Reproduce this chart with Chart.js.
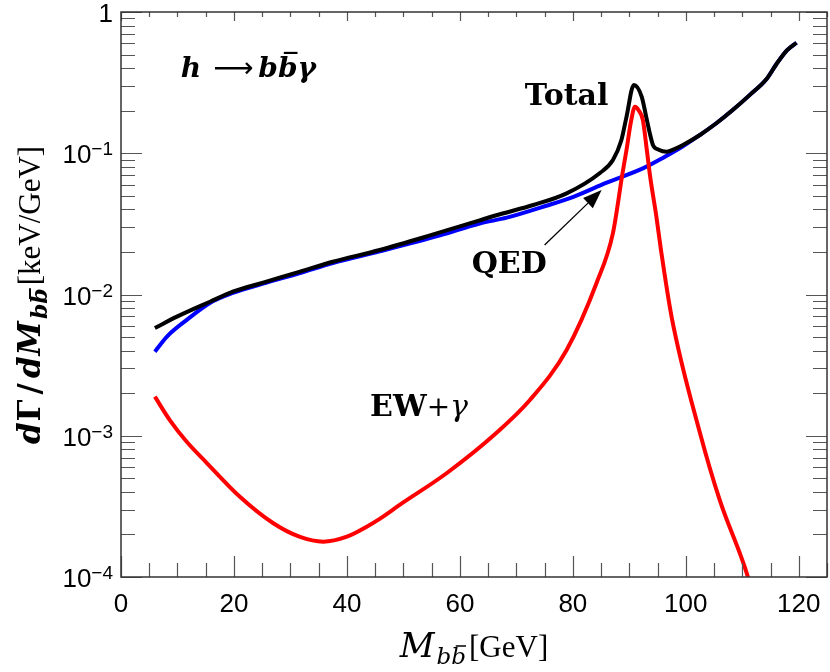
<!DOCTYPE html>
<html>
<head>
<meta charset="utf-8">
<script src="https://cdn.jsdelivr.net/npm/chart.js@4.4.1/dist/chart.umd.min.js"></script>
<style>
html,body{margin:0;padding:0;background:#fff;}
canvas{display:block;}
</style>
</head>
<body>
<canvas id="c" width="830" height="672"></canvas>
<script>
// ---------- data ----------
const totalX = [6.0, 9.9, 15.75, 19.8, 25, 31.7, 37.5, 45.8, 55, 63.5, 67.1, 73.0, 78.9, 84.8, 87.1, 88.6, 89.5, 90.8, 92.2, 93.0, 93.6, 94.2, 95.2, 96.6, 98, 99.5, 102.5, 105.4, 108.3, 111.3, 114.3, 116.0, 117.9, 119.6];
const totalY = [0.00579, 0.00697, 0.00889, 0.01047, 0.0121, 0.01452, 0.01706, 0.02065, 0.0264, 0.0335, 0.0370, 0.0430, 0.0520, 0.0725, 0.0896, 0.124, 0.181, 0.304, 0.251, 0.18, 0.14, 0.114, 0.106, 0.1026, 0.107, 0.1143, 0.1347, 0.163, 0.2023, 0.258, 0.335, 0.425, 0.535, 0.606];

const qedX = [6.0, 8.1, 11.6, 15.75, 19.8, 25, 31.7, 37.5, 45.8, 56.5, 63.5, 68.3, 75.3, 80.1, 86.0, 92.4, 96.0, 99.5, 102.5, 105.4, 108.3, 111.3, 114.3, 116.0, 117.9, 119.6];
const qedY = [0.00394, 0.00502, 0.00659, 0.00871, 0.01025, 0.0119, 0.0142, 0.0167, 0.0202, 0.0262, 0.0318, 0.0350, 0.0425, 0.0492, 0.062, 0.0782, 0.093, 0.112, 0.1347, 0.163, 0.2023, 0.258, 0.335, 0.425, 0.535, 0.606];

const ewX = [6.0, 8.7, 11.6, 15.2, 21.1, 26.9, 31.7, 35.8, 40.0, 43.5, 45.8, 49.4, 57.7, 66.5, 72.4, 78.9, 84.2, 87.1, 88.8, 89.5, 90.3, 91.0, 91.7, 92.4, 93.1, 93.7, 94.8, 95.6, 97.5, 102.5, 106.0, 111.0, 112.0];
const ewY = [0.00189, 0.00128, 0.00091, 0.000641, 0.000368, 0.000241, 0.000192, 0.000178, 0.000193, 0.000227, 0.000258, 0.000325, 0.000545, 0.00105, 0.00179, 0.00405, 0.01206, 0.0272, 0.0725, 0.1054, 0.168, 0.2136, 0.2, 0.172, 0.1054, 0.0679, 0.0354, 0.0207, 0.0069, 0.00105, 0.000351, 0.0001, 0.00007];

const xTickValues = [0, 20, 40, 60, 80, 100, 120];
const yTickExponents = [-4, -3, -2, -1, 0];

// annotation anchors in data units
const labelTotal = {x: 71.5, y: 0.22};
const labelQED = {x: 62.1, y: 0.0142};
const arrowQED = {x0: 75.0, y0: 0.0224, x1: 85.1, y1: 0.055};
const labelEW = {x: 44.1, y: 0.00138};
const labelProcess = {x: 10.6, y: 0.347};

// ---------- styles ----------
const SERIF = "'Liberation Serif', 'DejaVu Serif', serif";
const MATH = "'DejaVu Serif', 'Liberation Serif', serif";
const SANS = "'Liberation Sans', Arial, sans-serif";

function pts(xs, ys) { return xs.map((x, i) => ({x: x, y: ys[i]})); }

function richWidth(ctx, segs) {
  let w = 0;
  for (const s of segs) { ctx.font = s.f; w += ctx.measureText(s.t).width + (s.gap || 0); }
  return w;
}
function drawRich(ctx, segs, x, y, align) {
  let cx = align === 'center' ? x - richWidth(ctx, segs) / 2 : x;
  ctx.textAlign = 'left';
  ctx.textBaseline = 'alphabetic';
  for (const s of segs) {
    ctx.font = s.f;
    const w = ctx.measureText(s.t).width;
    const dy = s.dy || 0;
    ctx.fillText(s.t, cx, y + dy);
    if (s.bar) {
      ctx.save();
      ctx.lineWidth = s.barW || 1.5;
      ctx.strokeStyle = ctx.fillStyle;
      ctx.beginPath();
      ctx.moveTo(cx + w * 0.3, y + dy - s.bar);
      ctx.lineTo(cx + w * 1.0, y + dy - s.bar);
      ctx.stroke();
      ctx.restore();
    }
    cx += w + (s.gap || 0);
  }
}

const framePlugin = {
  id: 'frame',
  afterDatasetsDraw(chart) {
    const {ctx, chartArea: a, scales: {x, y}} = chart;
    ctx.save();
    ctx.strokeStyle = '#555';
    ctx.lineWidth = 1.2;
    ctx.beginPath();
    for (let v = 0; v <= x.max; v += 5) {
      const px = Math.round(x.getPixelForValue(v)) + 0.5;
      const major = v % 20 === 0;
      const lb = major ? 21 : 14, lt = major ? 9 : 5;
      ctx.moveTo(px, a.bottom); ctx.lineTo(px, a.bottom - lb);
      ctx.moveTo(px, a.top); ctx.lineTo(px, a.top + lt);
    }
    for (let e = -4; e <= 0; e++) {
      for (let m = 1; m <= 9; m++) {
        const v = m * Math.pow(10, e);
        if (v > 1.0001) break;
        const py = Math.round(y.getPixelForValue(v)) + 0.5;
        const len = m === 1 ? 21 : 14;
        ctx.moveTo(a.left, py); ctx.lineTo(a.left + len, py);
        ctx.moveTo(a.right, py); ctx.lineTo(a.right - len, py);
      }
    }
    ctx.stroke();
    ctx.strokeStyle = '#333';
    ctx.lineWidth = 1.5;
    ctx.strokeRect(a.left, a.top, a.right - a.left, a.bottom - a.top);
    ctx.restore();
  },
  afterDraw(chart) {
    const {ctx, chartArea: a, scales: {x, y}} = chart;
    ctx.save();
    ctx.fillStyle = '#000';
    // x tick labels
    ctx.font = '26px ' + SANS;
    ctx.textAlign = 'center';
    ctx.textBaseline = 'alphabetic';
    for (const v of xTickValues) {
      ctx.fillText(String(v), x.getPixelForValue(v), a.bottom + 35);
    }
    // y tick labels
    for (const e of yTickExponents) {
      const py = y.getPixelForValue(Math.pow(10, e));
      const right = a.left - 8;
      if (e === 0) {
        ctx.font = '26px ' + SANS;
        ctx.textAlign = 'right';
        ctx.fillText('1', right, py + 10);
      } else {
        ctx.font = '19px ' + SANS;
        const sup = '\u2212' + String(-e);
        const sw = ctx.measureText(sup).width;
        ctx.textAlign = 'right';
        ctx.fillText(sup, right, py + 2);
        ctx.font = '26px ' + SANS;
        ctx.fillText('10', right - sw, py + 10);
      }
    }
    // axis titles
    drawRich(ctx, [
      {t: 'M', f: 'italic 34px ' + MATH, gap: 2},
      {t: 'b', f: 'italic 23px ' + MATH, dy: 7},
      {t: 'b', f: 'italic 23px ' + MATH, dy: 7, bar: 18, gap: 3},
      {t: '[GeV]', f: '31px ' + SERIF}
    ], (a.left + a.right) / 2, 657, 'center');

    ctx.save();
    ctx.translate(40, 295);
    ctx.rotate(-Math.PI / 2);
    drawRich(ctx, [
      {t: 'd', f: 'bold italic 31px ' + MATH, gap: 1},
      {t: '\u0393', f: 'bold 31px ' + MATH, gap: 5},
      {t: '/', f: 'bold 31px ' + MATH, gap: 5},
      {t: 'd', f: 'bold italic 31px ' + MATH, gap: 1},
      {t: 'M', f: 'bold italic 31px ' + MATH, gap: 2},
      {t: 'b', f: 'bold italic 22px ' + MATH, dy: 7},
      {t: 'b', f: 'bold italic 22px ' + MATH, dy: 7, bar: 17, barW: 2, gap: 3},
      {t: '[keV/GeV]', f: '31px ' + SERIF}
    ], 0, 0, 'center');
    ctx.restore();

    // annotations
    ctx.font = 'bold 30px ' + MATH;
    ctx.textAlign = 'left';
    ctx.fillText('Total', x.getPixelForValue(labelTotal.x), y.getPixelForValue(labelTotal.y));
    ctx.fillText('QED', x.getPixelForValue(labelQED.x), y.getPixelForValue(labelQED.y));

    drawRich(ctx, [
      {t: 'EW', f: 'bold 30px ' + MATH},
      {t: '+', f: '28px ' + MATH},
      {t: '\u03B3', f: 'italic 30px ' + MATH}
    ], x.getPixelForValue(labelEW.x), y.getPixelForValue(labelEW.y), 'left');

    drawRich(ctx, [
      {t: 'h', f: 'bold italic 28px ' + MATH, gap: 12},
      {t: '\u27F6', f: '28px DejaVu Sans', gap: 5},
      {t: 'b', f: 'bold italic 28px ' + MATH, gap: 0},
      {t: 'b', f: 'bold italic 28px ' + MATH, bar: 24, barW: 2.2, gap: 0},
      {t: '\u03B3', f: 'bold italic 28px ' + MATH}
    ], x.getPixelForValue(labelProcess.x), y.getPixelForValue(labelProcess.y), 'left');

    // QED arrow
    const x0 = x.getPixelForValue(arrowQED.x0), y0 = y.getPixelForValue(arrowQED.y0);
    const x1 = x.getPixelForValue(arrowQED.x1), y1 = y.getPixelForValue(arrowQED.y1);
    const ang = Math.atan2(y1 - y0, x1 - x0);
    const hl = 19, hw = 7;
    const bx = x1 - hl * Math.cos(ang), by = y1 - hl * Math.sin(ang);
    ctx.strokeStyle = '#000';
    ctx.lineWidth = 1.3;
    ctx.beginPath(); ctx.moveTo(x0, y0); ctx.lineTo(bx, by); ctx.stroke();
    ctx.beginPath();
    ctx.moveTo(x1, y1);
    ctx.lineTo(bx + hw * Math.sin(ang), by - hw * Math.cos(ang));
    ctx.lineTo(bx - hw * Math.sin(ang), by + hw * Math.cos(ang));
    ctx.closePath();
    ctx.fill();
    ctx.restore();
  }
};

const common = {borderWidth: 4, pointRadius: 0, fill: false, cubicInterpolationMode: 'monotone', clip: 0};

new Chart(document.getElementById('c'), {
  type: 'line',
  data: {
    datasets: [
      Object.assign({label: 'EW+\u03B3', data: pts(ewX, ewY), borderColor: '#ff0000'}, common),
      Object.assign({label: 'Total', data: pts(totalX, totalY), borderColor: '#000000'}, common),
      Object.assign({label: 'QED', data: pts(qedX, qedY), borderColor: '#0000ff'}, common)
    ]
  },
  options: {
    responsive: false,
    animation: false,
    devicePixelRatio: 1,
    layout: {padding: {top: 12, right: 3, left: 0, bottom: 0}},
    plugins: {legend: {display: false}, tooltip: {enabled: false}},
    scales: {
      x: {type: 'linear', min: 0, max: 125, grid: {display: false}, border: {display: false},
          ticks: {display: false}, afterFit(s) { s.height = 95; }},
      y: {type: 'logarithmic', min: 1e-4, max: 1, grid: {display: false}, border: {display: false},
          ticks: {display: false}, afterFit(s) { s.width = 121; }}
    }
  },
  plugins: [framePlugin]
});
</script>
</body>
</html>
